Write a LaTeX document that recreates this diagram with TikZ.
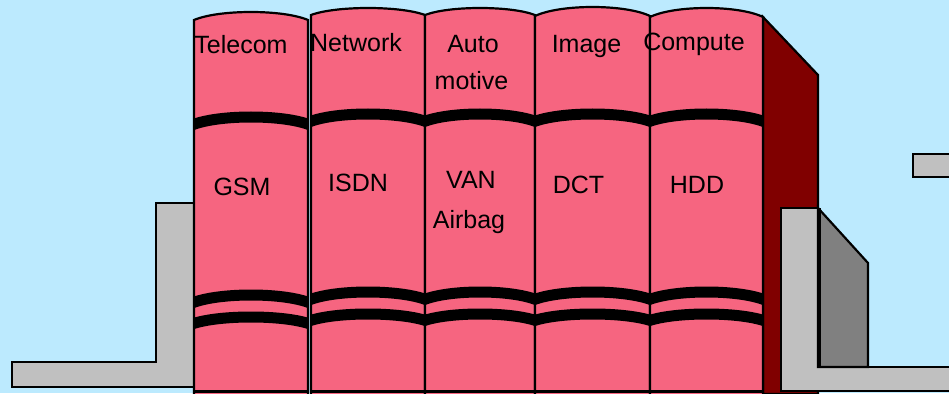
\documentclass[tikz,border=0pt]{standalone}
\usepackage{fontspec}
\setmainfont{Liberation Sans}
\definecolor{sky}{RGB}{188,234,254}
\definecolor{cover}{RGB}{246,101,128}
\definecolor{spine}{RGB}{128,0,0}
\definecolor{steel}{RGB}{192,192,192}
\definecolor{steeldark}{RGB}{128,128,128}
\tikzset{
  outline/.style={draw=black,line width=2.2pt,line join=miter},
  band/.style={draw=black,line width=11pt,line cap=butt},
  label/.style={anchor=base,inner sep=0pt,font=\fontsize{25}{25}\selectfont},
}
\begin{document}
\begin{tikzpicture}[x=1pt,y=-1pt]
  \useasboundingbox (0,0) rectangle (949,393);
  \fill[sky] (0,0) rectangle (949,393);

  % shelf end behind the books
  \filldraw[outline,fill=spine] (763,17) -- (818,75) -- (818,394) -- (763,394) -- cycle;

  % left bookend
  \filldraw[outline,fill=steel] (12,362) -- (156,362) -- (156,203) -- (194,203)
      -- (194,387) -- (12,387) -- cycle;

  % books: left, right, top edge, top peak, band shift
  \foreach \xl/\xr/\yE/\yP/\dy in {194/308/20/12/3, 311/425/15/8/0,
      425/535/15/8/0, 535/650/16/7/0, 650/763/17/8/0}{
    \fill[cover] (\xl,394) -- (\xl,\yE)
      .. controls ({\xl+0.22*(\xr-\xl)},{(4*\yP-\yE)/3})
              and ({\xr-0.22*(\xr-\xl)},{(4*\yP-\yE)/3}) .. (\xr,\yE)
      -- (\xr,394) -- cycle;
    \begin{scope}
      \clip (\xl,0) rectangle (\xr,393);
      \foreach \e/\m in {122/114, 300/292, 321/314}{
        \draw[band] (\xl-2,\e+\dy)
          .. controls ({\xl+0.22*(\xr-\xl)},{(4*(\m+\dy)-(\e+\dy))/3})
                  and ({\xr-0.22*(\xr-\xl)},{(4*(\m+\dy)-(\e+\dy))/3}) .. (\xr+2,\e+\dy);
      }
    \end{scope}
    \draw[outline] (\xl,394) -- (\xl,\yE)
      .. controls ({\xl+0.22*(\xr-\xl)},{(4*\yP-\yE)/3})
              and ({\xr-0.22*(\xr-\xl)},{(4*\yP-\yE)/3}) .. (\xr,\yE)
      -- (\xr,394);
    \draw[outline] (\xl,391.5) -- (\xr,391.5);
  }

  % right bookend
  \filldraw[outline,fill=steel] (781,208) -- (818,208) -- (818,367) -- (955,367)
      -- (955,391) -- (781,391) -- cycle;
  \filldraw[outline,fill=steeldark] (818,208) -- (868,263) -- (868,367) -- (818,367) -- cycle;
  \draw[black,line width=3.5pt] (819,208) -- (819,368);
  \filldraw[outline,fill=steel] (913,154) rectangle (955,177);

  % spine titles
  \node[label] (t1) at (241,54) {Telecom};
  \node[label] (t2) at (356,52) {Network};
  \node[label] (t3a) at (473,53) {Auto};
  \node[label] (t3b) at (471.5,90) {motive};
  \node[label] (t4) at (586.5,53) {Image};
  \node[label] (t5) at (694,51) {Compute};
  \node[label] (s1) at (242,195) {GSM};
  \node[label] (s2) at (358,191) {ISDN};
  \node[label] (s3a) at (471,188) {VAN};
  \node[label] (s3b) at (469,228) {Airbag};
  \node[label] (s4) at (578.5,193) {DCT};
  \node[label] (s5) at (697,193) {HDD};
\end{tikzpicture}
\end{document}
